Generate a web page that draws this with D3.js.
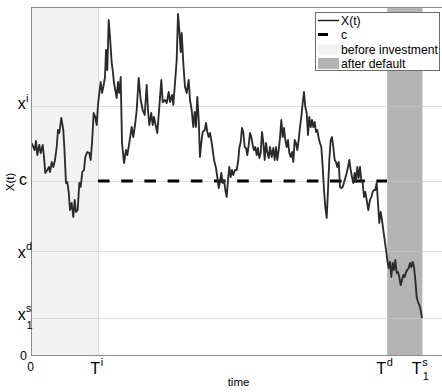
<!DOCTYPE html>
<html><head><meta charset="utf-8">
<script src="https://cdn.jsdelivr.net/npm/d3@7"></script>
<style>
body{margin:0;background:#fff}
svg{display:block}
text{font-family:"Liberation Sans",Arial,Helvetica,sans-serif;fill:#000}
</style>
</head><body>
<svg id="chart" width="442" height="392"></svg>
<script>
// ---- data (time in steps, X in arbitrary units) ----
const timeSteps = [
0.7,2.3,3.7,5,6.3,8.3,9.7,11.7,13,14.3,
16.3,18,19,20.7,22.3,24,25.7,27,28.3,30.3,
32.3,33.3,35,36.3,37.7,39,40.7,42.3,43.7,45,
46.7,48.3,49.7,51.3,53,54.3,56.3,58.3,59.7,61,
62.7,64.3,65.7,67,68.3,69.7,71,72.3,74,75,
76.3,77.7,79,80.7,81.7,83,84.3,85.7,87,88.3,
89.7,91,93,95,96.3,98.3,100.7,102.3,104.3,105.7,
107.7,109.7,111.7,113.7,115.7,117,118.3,120.3,121.7,123,
125,126.3,128.3,130.3,131.7,134,135.7,137.7,139,141,
142.3,144,145.7,147,148.3,149.7,150.7,152.3,154,155.7,
157.7,159,160.7,162.3,163.7,165,166.3,167.7,169,170.3,
171.7,173.7,175,176.3,177.7,179,180.3,181.7,183,185,
186.3,187.7,189,190.3,191.7,193,194.3,195.7,197,198.3,
199.7,201,202.3,204,205.7,207.3,208.3,209.7,211,212.3,
213.7,215,216.3,217.7,219,220.3,221.7,223,224.3,225.7,
227,228.3,229.7,231,232.3,233.7,235,236.3,237.7,239,
240.7,242.3,243.7,245,246.3,247.7,249,250.3,251.7,253,
254.3,255.7,257,258.3,259.7,261,262.3,263.7,265,266.3,
267.7,269,270.3,271.7,273,274.3,275.7,277,278.3,279.7,
281,282.3,283.7,285,286.3,287.7,289,290.3,291.7,293,
294.3,295.7,297,298.3,299.7,301,302.3,303.7,305,306.3,
307.7,309,310.3,311.7,313.7,315.7,317,318.3,319.7,321,
322.3,323.7,325,326.3,327.7,329,330.3,331.7,333,334.3,
335.7,337.3,339,340.3,341.7,343,344.3,345.7,347,348.3,
349.7,351,352.3,353.7,355,356.3,357.7,359,360.3,361.7,
363,364.3,365.7,367,368.3,369.7,371,372.3,373.7,375,
376.3,377.7,379,380.3,381.7,383,384.3,385.7,387,388.3,
389.7,391];
const xValues = [
212,208,205,214,200,210,202,210,198,182,
185,188,183,193,188,195,208,225,222,237,
225,208,172,173,163,145,152,138,155,143,
145,172,168,183,185,198,203,202,195,212,
242,238,230,250,262,273,262,268,278,305,
285,335,318,292,285,272,265,257,273,262,
278,212,192,205,200,212,228,218,232,245,
277,255,245,240,270,245,230,242,230,238,
228,222,248,275,253,255,252,263,253,260,
250,272,295,341,325,303,322,292,268,262,
275,255,245,228,243,228,258,235,198,212,
223,225,232,223,218,222,215,205,195,187,
178,167,173,182,172,175,165,158,175,188,
178,185,180,185,185,195,207,213,227,223,
208,207,200,210,222,218,210,205,208,200,
207,197,202,223,213,195,212,203,197,208,
198,207,195,208,195,205,217,235,218,227,
215,208,215,202,198,203,193,215,212,205,
215,228,238,252,263,248,242,220,238,228,
235,228,233,223,225,217,212,208,188,165,
148,137,165,195,215,218,208,195,193,188,
193,168,167,168,175,182,188,195,185,178,
172,182,173,188,177,188,175,172,158,163,
155,145,155,158,163,165,165,172,152,132,
143,135,125,115,105,95,87,93,78,92,
85,95,82,83,78,70,75,80,78,83,
85,87,92,88,93,88,75,58,53,50,
45,37];

const cLevel = 174;
const tInvest = 67, tDefault = 356, tSell = 391;
const timeMax = 415, valueMax = 348;

const xTickValues = [0, tInvest, tDefault, tSell];
const xTickBase = ["0", "T", "T", "T"];
const xTickSup  = ["", "i", "d", "s"];
const xTickSub  = ["", "", "", "1"];

const yTickValues = [0, 37, 104, cLevel, 249];
const yTickBase = ["0", "x", "x", "c", "x"];
const yTickSup  = ["", "s", "d", "", "i"];
const yTickSub  = ["", "1", "", "", ""];

const legendLabels = ["X(t)", "c", "before investment", "after default"];

// ---- drawing ----
const svg = d3.select("#chart");
const L = 31, R = 446, T = 7, B = 355;
const x = d3.scaleLinear().domain([0, timeMax]).range([L, R]);
const y = d3.scaleLinear().domain([0, valueMax]).range([B, T]);

// shaded periods
svg.append("rect").attr("x", x(0)).attr("y", T).attr("width", x(tInvest) - x(0)).attr("height", B - T).attr("fill", "#f2f2f2");
svg.append("rect").attr("x", x(tDefault)).attr("y", T).attr("width", x(tSell) - x(tDefault)).attr("height", B - T).attr("fill", "#b4b4b4");

// grid
const grid = svg.append("g").attr("stroke", "#c8c8c8").attr("stroke-opacity", 0.6).attr("stroke-width", 1);
yTickValues.filter(v => v > 0).forEach(v => {
  grid.append("line").attr("x1", L).attr("x2", R).attr("y1", Math.round(y(v)) + 0.5).attr("y2", Math.round(y(v)) + 0.5);
});
xTickValues.filter(v => v > 0).forEach(v => {
  grid.append("line").attr("y1", T).attr("y2", B).attr("x1", Math.round(x(v)) + 0.5).attr("x2", Math.round(x(v)) + 0.5);
});

// c dashed line
svg.append("path")
  .attr("d", d3.line().x(d => x(d[0])).y(d => y(d[1]))([[tInvest, cLevel], [tDefault, cLevel]]))
  .attr("stroke", "#000").attr("stroke-width", 3).attr("stroke-dasharray", "11.6,11.6").attr("fill", "none");

// X(t)
const line = d3.line().x((d, i) => x(timeSteps[i])).y(d => y(d));
svg.append("path").attr("d", line(xValues))
  .attr("fill", "none").attr("stroke", "#2a2a2a").attr("stroke-width", 1.85).attr("stroke-linejoin", "round");

// axes frame
const frame = svg.append("g").attr("stroke", "#8c8c8c").attr("stroke-width", 1);
frame.append("line").attr("x1", L + 0.5).attr("x2", L + 0.5).attr("y1", T).attr("y2", B + 0.5);
frame.append("line").attr("x1", L).attr("x2", R).attr("y1", B + 0.5).attr("y2", B + 0.5);
frame.append("line").attr("x1", L).attr("x2", R).attr("y1", T + 0.5).attr("y2", T + 0.5);

// y tick labels
const yBaseDy = [5, 1.7, 6.7, 4, 3.3];
const yLab = svg.append("g");
yTickValues.forEach((v, i) => {
  const yy = y(v);
  const big = yTickBase[i] !== "0";
  const endX = yTickBase[i] === "x" ? 25.8 : 27;
  yLab.append("text").attr("x", endX).attr("y", yy + yBaseDy[i])
    .attr("text-anchor", "end").style("font-size", big ? "16px" : "12.5px").text(yTickBase[i]);
  if (yTickSup[i]) yLab.append("text").attr("x", endX + 0.3).attr("y", yy + yBaseDy[i] - 7.5)
    .style("font-size", "11px").text(yTickSup[i]);
  if (yTickSub[i]) yLab.append("text").attr("x", endX + 0.6).attr("y", yy + yBaseDy[i] + 8.8)
    .style("font-size", "11px").text(yTickSub[i]);
});

// x tick labels
const xShift = [0, 2, -1, -0.5];
const xLab = svg.append("g");
xTickValues.forEach((v, i) => {
  const xx = x(v);
  if (xTickBase[i] === "0") {
    xLab.append("text").attr("x", xx - 0.5).attr("y", 371).attr("text-anchor", "middle").style("font-size", "12px").text("0");
    return;
  }
  const endX = xx + xShift[i];
  xLab.append("text").attr("x", endX).attr("y", 374).attr("text-anchor", "end").style("font-size", "16px").text(xTickBase[i]);
  if (xTickSup[i]) xLab.append("text").attr("x", endX + 0.8).attr("y", 366).style("font-size", "11px").text(xTickSup[i]);
  if (xTickSub[i]) xLab.append("text").attr("x", endX + 1.2).attr("y", 380).style("font-size", "11px").text(xTickSub[i]);
});

// axis titles
svg.append("text").attr("x", 238.5).attr("y", 386).attr("text-anchor", "middle").style("font-size", "11.5px").text("time");
svg.append("text").attr("transform", "translate(13.5,182) rotate(-90)").attr("text-anchor", "middle").style("font-size", "11.5px").text("X(t)");

// legend
const lg = svg.append("g");
lg.append("rect").attr("x", 315.5).attr("y", 12.5).attr("width", 124).attr("height", 58)
  .attr("fill", "#fff").attr("stroke", "#6e6e6e").attr("stroke-width", 1);
const rowY = [20.5, 34.5, 49.5, 63.5];
lg.append("line").attr("x1", 318).attr("x2", 339).attr("y1", rowY[0]).attr("y2", rowY[0]).attr("stroke", "#222").attr("stroke-width", 1.5);
lg.append("line").attr("x1", 318).attr("x2", 328).attr("y1", rowY[1]).attr("y2", rowY[1]).attr("stroke", "#000").attr("stroke-width", 3);
lg.append("rect").attr("x", 318).attr("y", rowY[2] - 5).attr("width", 21).attr("height", 10).attr("fill", "#f2f2f2");
lg.append("rect").attr("x", 318).attr("y", rowY[3] - 5.5).attr("width", 21).attr("height", 11).attr("fill", "#b4b4b4");
legendLabels.forEach((t, i) => {
  lg.append("text").attr("x", 341).attr("y", rowY[i] + 4.3).style("font-size", "12.2px").text(t);
});
</script>
</body></html>
